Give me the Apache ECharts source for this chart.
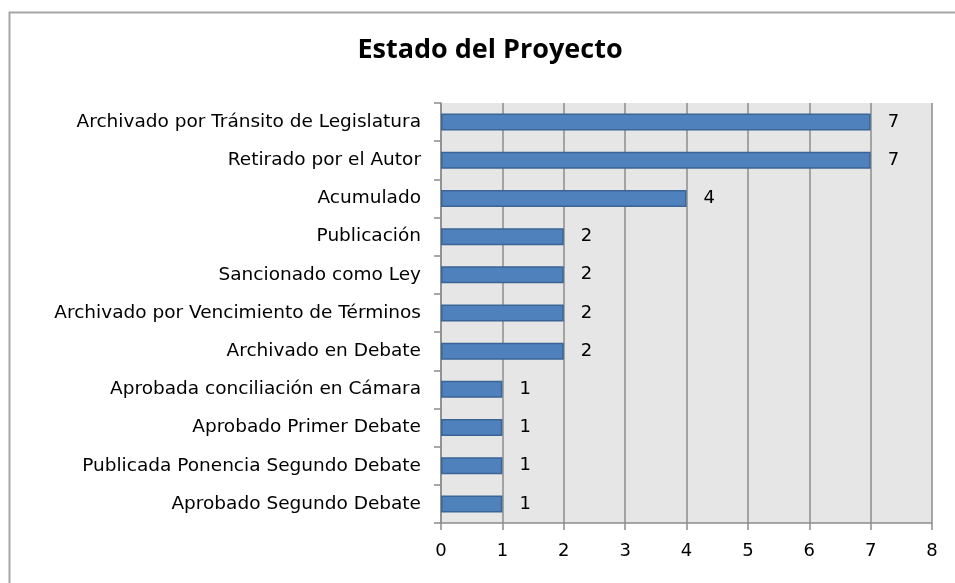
<!DOCTYPE html>
<html>
<head>
<meta charset="utf-8">
<script src="https://cdn.jsdelivr.net/npm/echarts@6/dist/echarts.min.js"></script>
<style>
  html, body { margin: 0; padding: 0; background: #fff; }
  #container { width: 955px; height: 583px; }
</style>
</head>
<body>
<div id="container"></div>
<script>
// datos del gráfico
var categorias = [
   'Archivado por Tránsito de Legislatura',
   'Retirado por el Autor',
   'Acumulado',
   'Publicación',
   'Sancionado como Ley',
   'Archivado por Vencimiento de Términos',
   'Archivado en Debate',
   'Aprobada conciliación en Cámara',
   'Aprobado Primer Debate',
   'Publicada Ponencia Segundo Debate',
   'Aprobado Segundo Debate'
];
var valores = [7, 7, 4, 2, 2, 2, 2, 1, 1, 1, 1];
var titulo = 'Estado del Proyecto';

var dom = document.getElementById('container');
var myChart = echarts.init(dom, null, { renderer: 'canvas' });

var option = {
   animation: false,
   title: {
      text: titulo,
      left: 485,
      textAlign: 'center',
      top: 32,
      textStyle: { fontFamily: 'Open Sans', fontWeight: 'bold', fontSize: 27, color: '#000' }
   },
   graphic: [{
      type: 'rect',
      shape: { x: 9.5, y: 12.5, width: 960, height: 600 },
      style: { fill: 'none', stroke: '#a6a6a6', lineWidth: 2 },
      silent: true
   }],
   grid: {
      left: 441,
      right: 23,
      top: 103,
      bottom: 60,
      show: true,
      backgroundColor: '#e6e6e6',
      borderWidth: 0
   },
   xAxis: {
      type: 'value',
      min: 0,
      max: 8,
      interval: 1,
      axisLine: { show: true, lineStyle: { color: '#8c8c8c', width: 1.5 } },
      axisTick: { show: true, length: 7, lineStyle: { color: '#8c8c8c', width: 1.5 } },
      axisLabel: { fontFamily: 'DejaVu Sans', fontSize: 18, color: '#000', margin: 19 },
      splitLine: { show: true, lineStyle: { color: '#8c8c8c', width: 1.5 } }
   },
   yAxis: {
      type: 'category',
      data: categorias,
      inverse: true,
      axisLine: { show: true, lineStyle: { color: '#8c8c8c', width: 1.5 } },
      axisTick: { show: true, length: 7, lineStyle: { color: '#8c8c8c', width: 1.5 } },
      axisLabel: { fontFamily: 'DejaVu Sans', fontSize: 18.5, color: '#000', margin: 20 }
   },
   series: [{
      type: 'bar',
      data: valores,
      barWidth: 17,
      itemStyle: { color: '#4f81bd', borderColor: '#3a6595', borderWidth: 1.5 },
      label: {
         show: true,
         position: 'right',
         distance: 17,
         fontFamily: 'DejaVu Sans',
         fontSize: 18,
         color: '#000'
      }
   }]
};

myChart.setOption(option);
window.addEventListener('resize', myChart.resize);
</script>
</body>
</html>
